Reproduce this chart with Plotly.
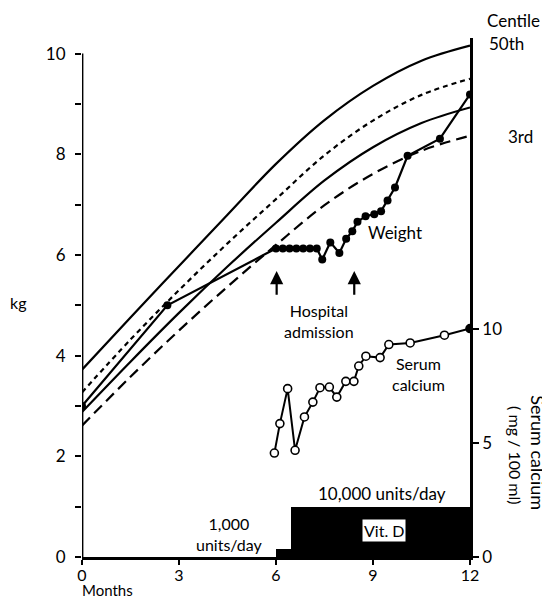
import plotly.graph_objects as go

# ---------------- data ----------------
centile_months = [0, 1.5, 3, 4.5, 6, 7.5, 9, 10.5, 12]
upper_solid = [3.72, 4.76, 5.78, 6.80, 7.81, 8.68, 9.36, 9.86, 10.16]
upper_dash = [3.27, 4.32, 5.30, 6.23, 7.11, 7.98, 8.67, 9.18, 9.50]
lower_solid = [2.88, 3.88, 4.85, 5.77, 6.64, 7.48, 8.14, 8.62, 8.93]
lower_dash = [2.61, 3.58, 4.50, 5.37, 6.20, 6.99, 7.61, 8.07, 8.37]

weight_months = [0, 2.64, 6.0, 6.21, 6.42, 6.63, 6.84, 7.05, 7.26, 7.43, 7.68, 7.96,
                 8.17, 8.36, 8.52, 8.77, 9.04, 9.25, 9.45, 9.68, 10.07, 11.07, 12.0]
weight_kg = [3.0, 5.0, 6.13, 6.13, 6.13, 6.13, 6.13, 6.13, 6.13, 5.91, 6.25, 6.04,
             6.32, 6.47, 6.66, 6.77, 6.81, 6.87, 7.08, 7.34, 7.97, 8.31, 9.19]

calcium_months = [5.95, 6.12, 6.36, 6.59, 6.88, 7.14, 7.36, 7.65, 7.88, 8.16, 8.41,
                  8.56, 8.78, 9.22, 9.49, 10.15, 11.21, 12.0]
calcium_mg = [4.55, 5.84, 7.37, 4.67, 6.13, 6.78, 7.41, 7.44, 7.00, 7.69, 7.69,
              8.36, 8.79, 8.73, 9.30, 9.37, 9.71, 10.0]

vitd_start = [6.0, 6.45]
vitd_end = [6.45, 12.0]
vitd_level = [0.16, 0.99]

admission_months = [6.02, 8.42]

x_ticks = [0, 3, 6, 9, 12]
x_ticktext = ["0", "3", "6", "9", "12"]
y_ticks = [0, 1, 2, 3, 4, 5, 6, 7, 8, 9, 10]
y_ticktext = ["0", "", "2", "", "4", "", "6", "", "8", "", "10"]
y2_ticks = [0, 5, 10]
y2_ticktext = ["0", "5", "10"]

FONT = "Lato"
fig = go.Figure()

# Vit D bars
fig.add_trace(go.Bar(
    x=[(s + e) / 2 for s, e in zip(vitd_start, vitd_end)],
    y=vitd_level,
    width=[e - s for s, e in zip(vitd_start, vitd_end)],
    marker=dict(color="black", line=dict(width=0)),
    showlegend=False, hoverinfo="skip"))

# Centile curves
for vals, dash in [(upper_solid, "solid"), (upper_dash, "5px,4px"),
                   (lower_solid, "solid"), (lower_dash, "11px,6px")]:
    fig.add_trace(go.Scatter(
        x=centile_months, y=vals, mode="lines",
        line=dict(color="black", width=2.2, dash=dash, shape="spline", smoothing=1.0),
        showlegend=False, hoverinfo="skip"))

# Weight
fig.add_trace(go.Scatter(
    x=weight_months, y=weight_kg, mode="lines+markers",
    line=dict(color="black", width=2.2),
    marker=dict(color="black", size=8),
    showlegend=False))

# Serum calcium (right axis)
fill_cols = ["white"] * (len(calcium_mg) - 1) + ["black"]
fig.add_trace(go.Scatter(
    x=calcium_months, y=calcium_mg, mode="lines+markers", yaxis="y2",
    line=dict(color="black", width=2),
    marker=dict(color=fill_cols, size=8, line=dict(color="black", width=1.6)),
    showlegend=False))

shapes = [dict(type="line", xref="x", yref="y", x0=0, x1=0, y0=0, y1=10,
               line=dict(color="black", width=2.8))]

def txt(x, y, s, size=17, ref="data", **kw):
    xr, yr = ("x", "y") if ref == "data" else ("paper", "paper")
    return dict(x=x, y=y, xref=xr, yref=yr, text=s, showarrow=False,
                xanchor="center", yanchor="middle",
                font=dict(family=FONT, size=size, color="black"), **kw)

annotations = [
    txt(1.111, 1.034, "Centile", 17, ref="paper"),
    txt(1.095, 0.990, "50th", 17, ref="paper"),
    txt(1.129, 0.810, "3rd", 17, ref="paper"),
    txt(-0.165, 0.491, "kg", 16, ref="paper"),
    txt(0.067, -0.064, "Months", 15, ref="paper", borderpad=0),
    txt(1.175, 0.200, "Serum calcium", 18, ref="paper", textangle=90),
    txt(1.119, 0.196, "( mg / 100 ml)", 16, ref="paper", textangle=90),
    txt(9.68, 6.45, "Weight", 17),
    txt(7.33, 4.68, "Hospital<br>admission", 16),
    txt(10.40, 3.63, "Serum<br>calcium", 16),
    txt(9.28, 1.26, "10,000 units/day", 17),
    txt(4.55, 0.45, "1,000<br>units/day", 16),
    txt(9.34, 0.53, "Vit. D", 16, bgcolor="white", borderpad=1),
]
for m in admission_months:
    annotations.append(dict(x=m, y=5.68, ax=m, ay=5.18, xref="x", yref="y",
                            axref="x", ayref="y", text="", showarrow=True,
                            arrowhead=2, arrowsize=1.2, arrowwidth=2.2,
                            arrowcolor="black"))

fig.update_layout(
    width=542, height=593,
    margin=dict(l=74, r=80, t=30, b=44),
    paper_bgcolor="white", plot_bgcolor="white",
    font=dict(family=FONT, color="black", size=17),
    bargap=0,
    xaxis=dict(range=[0, 12], tickvals=x_ticks, ticktext=x_ticktext,
               showline=True, linecolor="black", linewidth=2.8,
               ticks="outside", ticklen=5, tickwidth=2, tickcolor="black",
               showgrid=False, zeroline=False, tickfont=dict(size=16),
               ticklabelstandoff=-3),
    yaxis=dict(range=[0, 10.31], tickvals=y_ticks, ticktext=y_ticktext,
               showline=False, ticks="outside", ticklen=6, tickwidth=2,
               tickcolor="black", showgrid=False, zeroline=False,
               tickfont=dict(size=17), ticklabelstandoff=6),
    yaxis2=dict(range=[0, 22.72], overlaying="y", side="right",
                tickvals=y2_ticks, ticktext=y2_ticktext,
                showline=True, linecolor="black", linewidth=2.8,
                ticks="outside", ticklen=6, tickwidth=2, tickcolor="black",
                showgrid=False, zeroline=False, tickfont=dict(size=17)),
    shapes=shapes, annotations=annotations,
)

fig.write_html("out.html")
